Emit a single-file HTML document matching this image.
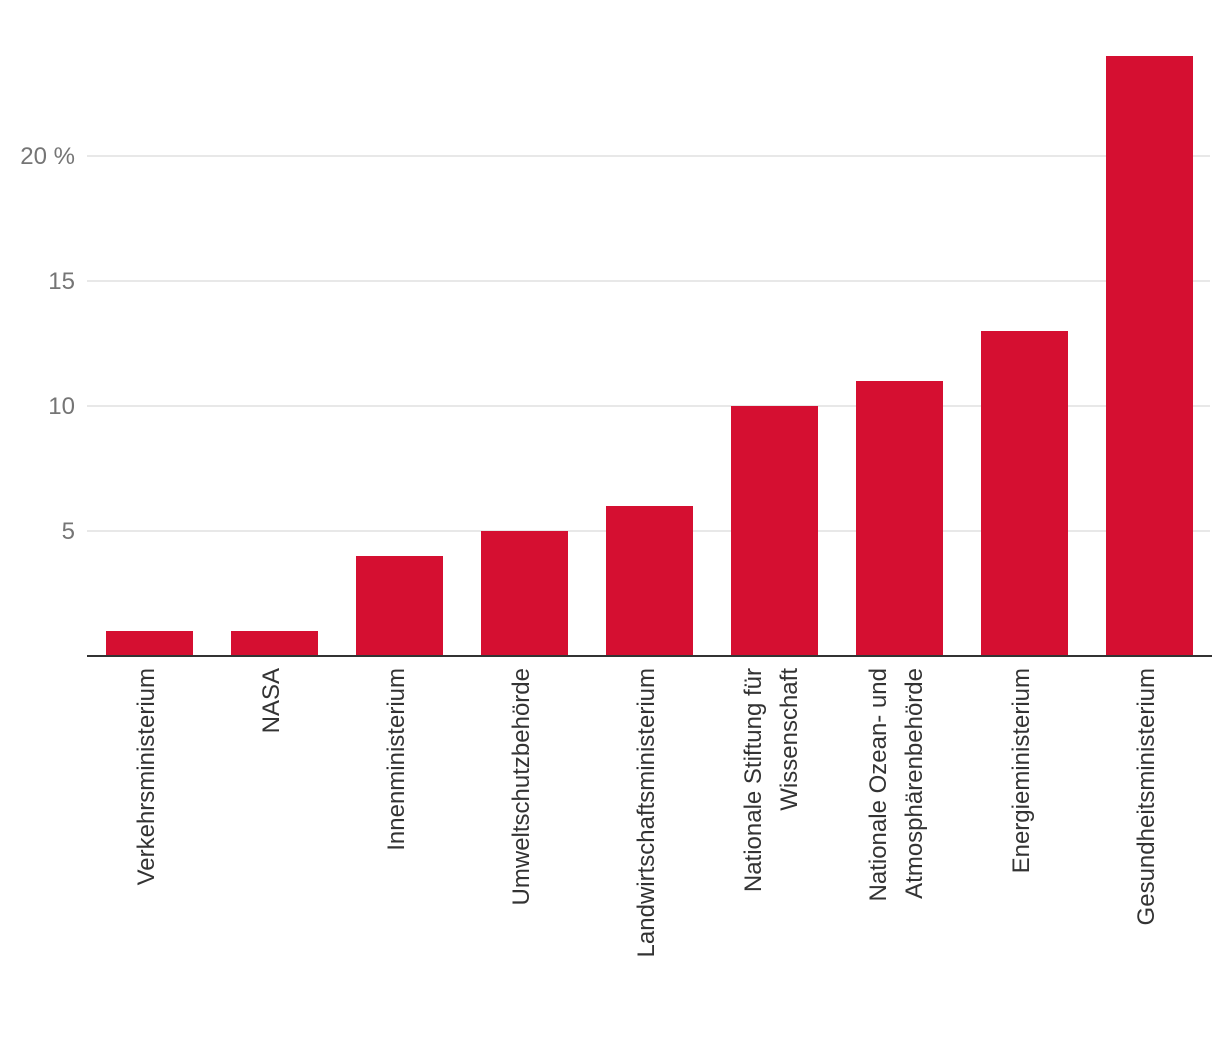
<!DOCTYPE html>
<html><head><meta charset="utf-8"><style>
body{margin:0;background:#fff;}
svg{display:block;font-family:"Liberation Sans",sans-serif;}
</style></head><body>
<svg id="chart" width="1220" height="1044"></svg>
<script>
const categories=[["Verkehrsministerium"],["NASA"],["Innenministerium"],["Umweltschutzbehörde"],["Landwirtschaftsministerium"],["Nationale Stiftung für","Wissenschaft"],["Nationale Ozean- und","Atmosphärenbehörde"],["Energieministerium"],["Gesundheitsministerium"]];
const values=[1,1,4,5,6,10,11,13,24];
const ticks=[5,10,15,20];
const tickLabels=["5","10","15","20 %"];
const NS="http://www.w3.org/2000/svg";
const svg=document.getElementById('chart');
const x0=87,band=125,barW=87,baseY=656,pxPer=25;
const y=v=>baseY-v*pxPer;
const xc=i=>x0+band*i+band/2;
function mk(t,a){const e=document.createElementNS(NS,t);for(const k in a)e.setAttribute(k,a[k]);svg.appendChild(e);return e;}
ticks.forEach((t,i)=>{
 const g=mk('line',{x1:x0,x2:1210,y1:y(t),y2:y(t),stroke:'#e0e0e0','stroke-width':1.5});
 
 
 const tx=mk('text',{x:75,y:y(t)+8,'text-anchor':'end','font-size':24,fill:'#757575'});
 tx.textContent=tickLabels[i];
 
 
});
values.forEach((v,i)=>{
 const r=mk('rect',{x:xc(i)-barW/2,y:y(v),width:barW,height:v*pxPer,fill:'#d50f31'});
 
 
 const lines=categories[i];
 lines.forEach((l,j)=>{
  const off=(j-(lines.length-1)/2)*36;
  const cx=xc(i)-4+off;
  const t=mk('text',{x:cx,y:baseY+12,'text-anchor':'end','font-size':24,fill:'#333',transform:`rotate(-90 ${cx} ${baseY+12})`,dy:'0.35em'});
  t.textContent=l;
  
  
 });
});
const ax=mk('line',{x1:x0,x2:1212,y1:baseY,y2:baseY,stroke:'#333','stroke-width':2});


</script>
</body></html>
